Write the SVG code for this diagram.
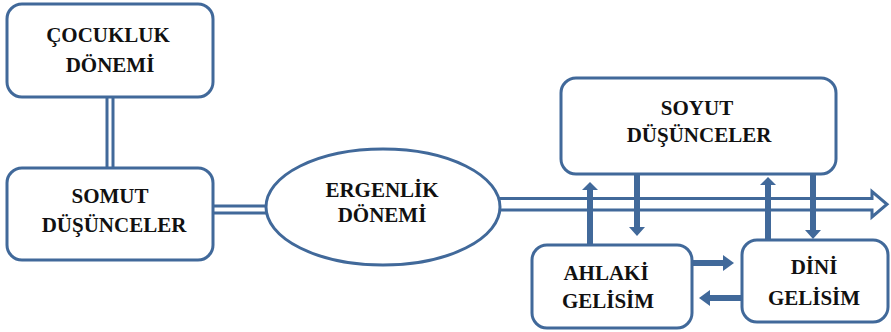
<svg xmlns="http://www.w3.org/2000/svg" width="891" height="332" viewBox="0 0 891 332">
<style>
.box{fill:#fff;stroke:#41699A;stroke-width:3}
.ln{stroke:#41699A;stroke-width:3;fill:none}
.arr{fill:#41699A}
</style>
<rect width="891" height="332" fill="#fff"/>
<g id="connectors">
<line class="ln" x1="107" y1="96" x2="107" y2="169"/>
<line class="ln" x1="113" y1="96" x2="113" y2="169"/>
<line class="ln" x1="212" y1="206" x2="270" y2="206"/>
<line class="ln" x1="212" y1="213" x2="270" y2="213"/>
<polygon class="box" points="495,198.5 872,198.5 872,191.5 887,204.25 872,217 872,210 495,210"/>
<polygon class="arr" points="587,246 587,190 582,190 590,182 598,190 593,190 593,246"/>
<polygon class="arr" points="634,173 634,227 629,227 637,236 645,227 640,227 640,173"/>
<polygon class="arr" points="765,241 765,185 760,185 768,177 776,185 771,185 771,241"/>
<polygon class="arr" points="810,173 810,230 805,230 813,239 821,230 816,230 816,173"/>
<polygon class="arr" points="691,260 723,260 723,255 734,263 723,271 723,266 691,266"/>
<polygon class="arr" points="743,295 710,295 710,290 699,298 710,306 710,301 743,301"/>
</g>
<g font-family="Liberation Serif, Times New Roman, DejaVu Serif, serif" font-weight="bold" font-size="21" fill="#111" text-anchor="middle">
<g id="cocukluk">
<rect class="box" x="7" y="4" width="206" height="93" rx="15"/>
<text x="108" y="42">ÇOCUKLUK</text>
<text x="110" y="72">DÖNEMİ</text>
</g>
<g id="somut">
<rect class="box" x="7" y="168" width="206" height="92" rx="15"/>
<text x="110" y="203">SOMUT</text>
<text x="114" y="232">DÜŞÜNCELER</text>
</g>
<g id="ergenlik">
<ellipse class="box" cx="383" cy="207" rx="117" ry="58"/>
<text x="382" y="197">ERGENLİK</text>
<text x="382" y="222">DÖNEMİ</text>
</g>
<g id="soyut">
<rect class="box" x="561" y="78" width="275" height="96" rx="15"/>
<text x="697" y="115">SOYUT</text>
<text x="699" y="142">DÜŞÜNCELER</text>
</g>
<g id="ahlaki">
<rect class="box" x="532" y="245" width="160" height="83" rx="15"/>
<text x="606" y="280">AHLAKİ</text>
<text x="608" y="308">GELİSİM</text>
</g>
<g id="dini">
<rect class="box" x="742" y="240" width="146" height="82" rx="15"/>
<text x="814" y="274">DİNİ</text>
<text x="814" y="305">GELİSİM</text>
</g>
</g>
</svg>
